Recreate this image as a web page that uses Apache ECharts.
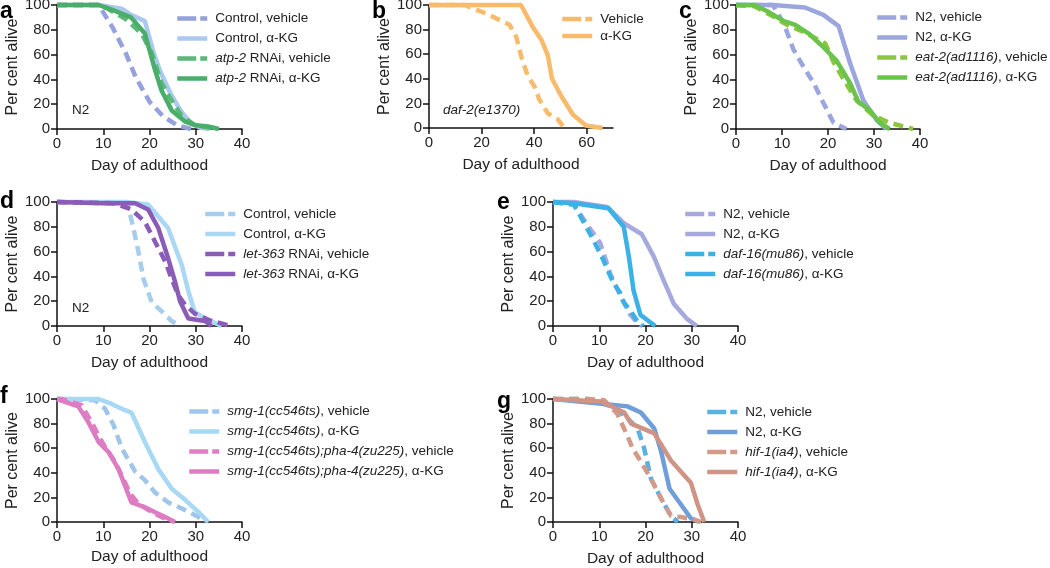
<!DOCTYPE html>
<html><head><meta charset="utf-8">
<script src="https://cdn.jsdelivr.net/npm/echarts@6/dist/echarts.min.js"></script>
<style>html,body{margin:0;padding:0;background:#fff}#c{width:1050px;height:568px}</style>
</head><body><div id="c"></div>
<script>
// ---------- data: [day of adulthood, per cent alive] ----------
const aCtrlVeh = [[0,100],[9,100],[12,82],[15,60],[17,42],[20,22],[23,10],[26,3],[29,0]];
const aCtrlKG  = [[0,100],[9,100],[14,97],[16,92],[19,87],[21,60],[22.5,45],[24.5,29],[26.7,15],[28.8,5],[31,1],[33,0]];
const aAtpVeh  = [[0,100],[9,100],[11,97],[14.7,89],[18.3,77],[20.5,61],[22.6,37],[24.8,23],[26.9,11],[29.8,3],[33.4,1],[34,0]];
const aAtpKG   = [[0,100],[9,100],[12,96],[16,90],[19,77],[21,50],[22.6,31],[24.8,15],[27.7,6],[30,3],[32.7,2],[35,0]];

const bVeh = [[0,100],[13.5,100],[21.8,93],[30.6,84],[33.2,74],[35.1,58],[37.6,42],[40.1,34],[42,23],[45.2,12],[49,7],[51.5,0]];
const bKG  = [[0,100],[35,100],[39.5,82],[42.7,72],[45.2,59],[46.8,40],[50.3,26],[54.7,11],[59.7,2],[66,0]];

const cN2Veh  = [[0,100],[8,100],[10.4,85],[12.5,64],[14.7,50],[16.9,37],[19,21],[21.2,5],[24,0]];
const cN2KG   = [[0,100],[8,100],[15,98],[19,92],[22.3,83],[24.8,53],[27.7,23],[30.6,7],[32.7,0]];
const cEatVeh = [[0,100],[4,99],[7.5,92],[11.1,84],[15.4,77],[19.4,69],[21.2,54],[23.4,40],[26.2,23],[29.8,11],[33.4,5],[38.5,0]];
const cEatKG  = [[0,100],[4,100],[6.8,95],[10.4,87],[12.9,84],[15.8,77],[19,66],[21.9,55],[24.8,37],[26.6,22],[29.1,15],[31.3,5],[33.4,0]];

const dCtrlVeh = [[0,100],[14,99],[15.5,95],[16.5,79],[17.6,60],[18.7,38],[20.5,19],[22.6,12],[24.8,4],[26.6,0]];
const dCtrlKG  = [[0,100],[15,100],[19.7,98],[24,79],[27,49],[28.4,28],[29.8,11],[32.7,5],[35.6,0]];
const dLetVeh  = [[0,100],[12,99],[13,98],[16.1,94],[19,84],[21.2,68],[23.4,52],[24.8,38],[26.2,25],[27.7,17],[29.8,10],[32.7,5],[37.5,0]];
const dLetKG   = [[0,100],[10,99],[16.9,99],[19.7,94],[21.9,79],[24,55],[25.5,36],[26.6,20],[28.4,6],[32,4],[33.4,0]];

const eN2Veh  = [[0,100],[4.5,98],[8.1,78],[10.2,67],[12.4,42],[14.6,24],[16.7,9],[18.2,3],[19.2,0]];
const eN2KG   = [[0,100],[4.5,100],[11.7,96],[15.3,83],[19.2,74],[21.8,56],[23.9,37],[26.1,18],[28.9,6],[31.1,0]];
const eDafVeh = [[0,100],[4.5,98],[6,88],[8.8,69],[10.9,53],[13,35],[14.5,27],[15.3,19],[16.8,12],[18.2,4],[19.5,0]];
const eDafKG  = [[0,100],[4.5,99],[12,95],[15.3,80],[16.4,56],[17.4,29],[18.9,9],[22.1,0]];

const fSmgVeh = [[0,100],[8.2,99],[10.4,92],[12.2,79],[14,60],[16.9,41],[19,34],[21.2,24],[24,16],[27,11],[30.6,4],[32,0]];
const fSmgKG  = [[0,100],[9,100],[11.8,96],[14,92],[16.1,89],[19,65],[21.9,43],[24.8,27],[27.7,18],[30.6,8],[32.7,0]];
const fPhaVeh = [[0,100],[1,100],[5.3,95],[7.5,81],[9,70],[10.4,61],[12.2,51],[14,38],[15.8,23],[17.6,15],[20.5,8],[22.6,4],[25.5,0]];
const fPhaKG  = [[0,100],[4.6,94],[6.8,81],[9,65],[11.1,57],[13.3,43],[16.1,16],[19,12],[21.2,8],[23.4,4],[25.5,0]];

const gN2Veh  = [[0,100],[7.5,100],[11.8,95],[15.4,87],[18.3,76],[19.7,60],[21.2,35],[23.4,19],[25.5,5],[27,0]];
const gN2KG   = [[0,100],[11.1,96],[16.1,94],[19,89],[21.9,76],[23.4,57],[25.2,27],[27.7,14],[29.8,3],[31.6,0]];
const gHifVeh = [[0,100],[7.5,100],[11.1,99],[13.9,88],[16.1,70],[17.2,60],[19,49],[21.2,35],[23.4,19],[25.5,5],[27.7,4],[30.6,2],[32,0]];
const gHifKG  = [[0,100],[10.4,98],[15.4,89],[16.9,80],[21.9,72],[25.5,50],[29.8,32],[31.3,14],[32.7,0]];

// ---------- tick labels / text ----------
const xTicks40 = [0,10,20,30,40];
const xTicks70 = [0,20,40,60];
const yTicks = [0,20,40,60,80,100];
const xName = 'Day of adulthood';
const yName = 'Per cent alive';
const LABELS = {
  a1:'Control, vehicle', a2:'Control, α-KG', a3:'{i|atp-2} RNAi, vehicle', a4:'{i|atp-2} RNAi, α-KG',
  b1:'Vehicle', b2:'α-KG',
  c1:'N2, vehicle', c2:'N2, α-KG', c3:'{i|eat-2(ad1116)}, vehicle', c4:'{i|eat-2(ad1116)}, α-KG',
  d1:'Control, vehicle', d2:'Control, α-KG', d3:'{i|let-363} RNAi, vehicle', d4:'{i|let-363} RNAi, α-KG',
  e1:'N2, vehicle', e2:'N2, α-KG', e3:'{i|daf-16(mu86)}, vehicle', e4:'{i|daf-16(mu86)}, α-KG',
  f1:'{i|smg-1(cc546ts)}, vehicle', f2:'{i|smg-1(cc546ts)}, α-KG', f3:'{i|smg-1(cc546ts);pha-4(zu225)}, vehicle', f4:'{i|smg-1(cc546ts);pha-4(zu225)}, α-KG',
  g1:'N2, vehicle', g2:'N2, α-KG', g3:'{i|hif-1(ia4)}, vehicle', g4:'{i|hif-1(ia4)}, α-KG'
};

// ---------- layout & styles ----------
const FONT = '"Liberation Sans", Arial, Helvetica, sans-serif';
const TXT = '#222';
const PANELS = [
  {letter:'a', lx:0,  ly:12, box:[57,5,185,124],  xMax:40, xInt:10, xTicks:xTicks40, nameGap:29,
   leg:[175,11.5,6], notes:[['N2',72,110,false]],
   series:[['a1',aCtrlVeh,'#95a1dc',1],['a2',aCtrlKG,'#abc9ee',0],['a3',aAtpVeh,'#5bb877',1],['a4',aAtpKG,'#49ae6a',0]]},
  {letter:'b', lx:372, ly:12, box:[429,5,184,123], xMax:70, xInt:20, xTicks:xTicks70, nameGap:29,
   leg:[560,12,3], notes:[['daf-2(e1370)',443,110,true]],
   series:[['b1',bVeh,'#f8bb6b',1],['b2',bKG,'#f8bb6b',0]]},
  {letter:'c', lx:679, ly:12, box:[736,5,184,124], xMax:40, xInt:10, xTicks:xTicks40, nameGap:29,
   leg:[875,10.5,6], notes:[],
   series:[['c1',cN2Veh,'#9ba6de',1],['c2',cN2KG,'#9ba6de',0],['c3',cEatVeh,'#8cc63f',1],['c4',cEatKG,'#6ac34b',0]]},
  {letter:'d', lx:0, ly:202, box:[57,202,185,124], xMax:40, xInt:10, xTicks:xTicks40, nameGap:29,
   leg:[203,207,6], notes:[['N2',72,308,false]],
   series:[['d1',dCtrlVeh,'#a6cdee',1],['d2',dCtrlKG,'#a9d7f4',0],['d3',dLetVeh,'#8b5cb7',1],['d4',dLetKG,'#8b5cb7',0]]},
  {letter:'e', lx:497, ly:203, box:[553,202,185,124], xMax:40, xInt:10, xTicks:xTicks40, nameGap:29,
   leg:[683,207,6], notes:[],
   series:[['e1',eN2Veh,'#a5a9dd',1],['e2',eN2KG,'#a5a9dd',0],['e3',eDafVeh,'#3cb1e6',1],['e4',eDafKG,'#3cb1e6',0]]},
  {letter:'f', lx:0, ly:397, box:[57,399,185,123], xMax:40, xInt:10, xTicks:xTicks40, nameGap:27,
   leg:[187,404.5,6], notes:[],
   series:[['f1',fSmgVeh,'#9fc5ea',1],['f2',fSmgKG,'#a7d8f4',0],['f3',fPhaVeh,'#e07ec4',1],['f4',fPhaKG,'#dd7cc2',0]]},
  {letter:'g', lx:497, ly:402, box:[553,399,185,123], xMax:40, xInt:10, xTicks:xTicks40, nameGap:29,
   leg:[705,405,6], notes:[],
   series:[['g1',gN2Veh,'#5bb0e2',1],['g2',gN2KG,'#6f9ed8',0],['g3',gHifVeh,'#d49a88',1],['g4',gHifKG,'#cf9484',0]]}
];

const grid = [], xAxis = [], yAxis = [], series = [], legend = [], graphic = [];
const axisLine = {show:true, lineStyle:{color:'#111', width:1.5}};
const axisTick = {show:true, inside:false, length:6, lineStyle:{color:'#111', width:1.5}};

PANELS.forEach((p, i) => {
  grid.push({left:p.box[0], top:p.box[1], width:p.box[2], height:p.box[3], outerBoundsMode:'none', containLabel:false});
  xAxis.push({
    gridIndex:i, type:'value', min:0, max:p.xMax, interval:p.xInt,
    name:xName, nameLocation:'middle', nameGap:p.nameGap,
    nameTextStyle:{fontSize:15.5, color:TXT, fontFamily:FONT},
    axisLine, axisTick:Object.assign({}, axisTick, {customValues:p.xTicks}),
    axisLabel:{customValues:p.xTicks, fontSize:15, color:TXT, fontFamily:FONT, margin:7},
    splitLine:{show:false}
  });
  yAxis.push({
    gridIndex:i, type:'value', min:0, max:100, interval:20,
    name:yName, nameLocation:'middle', nameGap:31, nameRotate:90,
    nameTextStyle:{fontSize:16, color:TXT, fontFamily:FONT},
    axisLine, axisTick:Object.assign({}, axisTick, {customValues:yTicks}),
    axisLabel:{customValues:yTicks, fontSize:15, color:TXT, fontFamily:FONT, margin:7},
    splitLine:{show:false}
  });
  const legData = [];
  p.series.forEach(s => {
    const dashed = !!s[3];
    series.push({
      type:'line', name:s[0], xAxisIndex:i, yAxisIndex:i, data:s[1],
      symbol:'none', showSymbol:false, clip:false, animation:false,
      lineStyle:{color:s[2], width:4.5, type: dashed ? [10,6] : 'solid'},
      itemStyle:{color:s[2]}
    });
    legData.push({name:s[0], itemStyle:{opacity:0, borderWidth:0},
      lineStyle:{width:4.5, type: dashed ? [19,4] : 'solid'}});
  });
  legend.push({
    left:p.leg[0], top:p.leg[1], orient:'vertical', padding:0,
    itemWidth:30, itemHeight:14, itemGap:p.leg[2], selectedMode:false,
    data:legData, formatter: n => LABELS[n],
    itemStyle:{opacity:0, borderWidth:0},
    lineStyle:{width:4.5},
    textStyle:{fontSize:13.5, color:TXT, fontFamily:FONT, padding:[0,0,0,3],
      rich:{i:{fontStyle:'italic', fontSize:13.5, color:TXT, fontFamily:FONT}}}
  });
  graphic.push({type:'text', x:p.lx, y:p.ly, style:{text:p.letter, fill:'#000',
    font:'bold 23px ' + FONT, align:'left', verticalAlign:'middle', textAlign:'left', textVerticalAlign:'middle'}});
  p.notes.forEach(n => {
    graphic.push({type:'text', x:n[1], y:n[2], style:{text:n[0], fill:TXT,
      font:(n[3] ? 'italic ' : '') + '13.5px ' + FONT, align:'left', verticalAlign:'middle', textAlign:'left', textVerticalAlign:'middle'}});
  });
});

const chart = echarts.init(document.getElementById('c'), null, {renderer:'canvas', width:1050, height:568});
chart.setOption({animation:false, backgroundColor:'#fff', grid, xAxis, yAxis, series, legend, graphic, tooltip:{show:false}});
</script></body></html>
